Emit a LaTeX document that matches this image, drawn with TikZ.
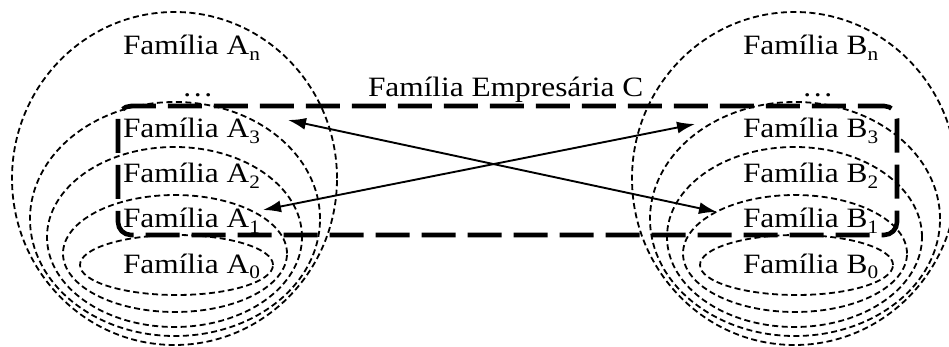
\documentclass[tikz,border=0pt]{standalone}
\usepackage{fontspec}
\setmainfont{Liberation Serif}
\usetikzlibrary{arrows.meta}
% label text: slightly widened Times-like serif
\newcommand{\lbltext}[1]{\scalebox{1.12}[1]{\fontsize{28}{28}\selectfont #1}}
% lowered index after a family letter
\newcommand{\subidx}[1]{\raisebox{-5.5pt}{\fontsize{19}{19}\selectfont #1}}

\begin{document}
\begin{tikzpicture}[x=1pt,y=-1pt,
  famring/.style={draw=black, line width=1.8pt, dash pattern=on 6pt off 3.5pt},
  groupbox/.style={draw=black, line width=4.6pt, dash pattern=on 34pt off 12pt, rounded corners=13pt},
  famlabel/.style={anchor=base west, inner sep=0pt, outer sep=0pt},
  link/.style={line width=1.9pt, {Latex[length=18pt,width=12pt]}-{Latex[length=18pt,width=12pt]}}
]
\useasboundingbox (0,0) rectangle (949,347);

% nested family rings, side A and side B (shifted by 620)
\foreach \dx in {0,620}{
  \draw[famring] (174.5+\dx,178.5) ellipse [x radius=162.5pt, y radius=166.5pt];
  \draw[famring] (175+\dx,219)   ellipse [x radius=145pt,   y radius=117pt];
  \draw[famring] (174.5+\dx,237) ellipse [x radius=127.5pt, y radius=90pt];
  \draw[famring] (175+\dx,253.5) ellipse [x radius=112pt,   y radius=58.5pt];
  \draw[famring] (176.5+\dx,265) ellipse [x radius=96.5pt,  y radius=30pt];
}

% business family box
\draw[groupbox] (118,106) rectangle (897,235);

% labels, side A
\node[famlabel] (an)   at (123,55)  {\lbltext{Família A\subidx{n}}};
\node[famlabel] (adots) at (182,97) {\lbltext{…}};
\node[famlabel] (a3)   at (123,138) {\lbltext{Família A\subidx{3}}};
\node[famlabel] (a2)   at (123,183) {\lbltext{Família A\subidx{2}}};
\node[famlabel] (a1)   at (123,228) {\lbltext{Família A\subidx{1}}};
\node[famlabel] (a0)   at (123,273) {\lbltext{Família A\subidx{0}}};

% labels, side B
\node[famlabel] (bn)   at (743,55)  {\lbltext{Família B\subidx{n}}};
\node[famlabel] (bdots) at (802,97) {\lbltext{…}};
\node[famlabel] (b3)   at (743,138) {\lbltext{Família B\subidx{3}}};
\node[famlabel] (b2)   at (743,183) {\lbltext{Família B\subidx{2}}};
\node[famlabel] (b1)   at (743,228) {\lbltext{Família B\subidx{1}}};
\node[famlabel] (b0)   at (743,273) {\lbltext{Família B\subidx{0}}};

\node[famlabel] (emp) at (368,97) {\lbltext{Família Empresária C}};

% cross links between the two sides
\coordinate (tipA3) at (288,120);
\coordinate (tipB1) at (717,212);
\coordinate (tipA1) at (263,210);
\coordinate (tipB3) at (695,124);
\draw[link] (tipA3) -- (tipB1);
\draw[link] (tipA1) -- (tipB3);
\end{tikzpicture}
\end{document}
